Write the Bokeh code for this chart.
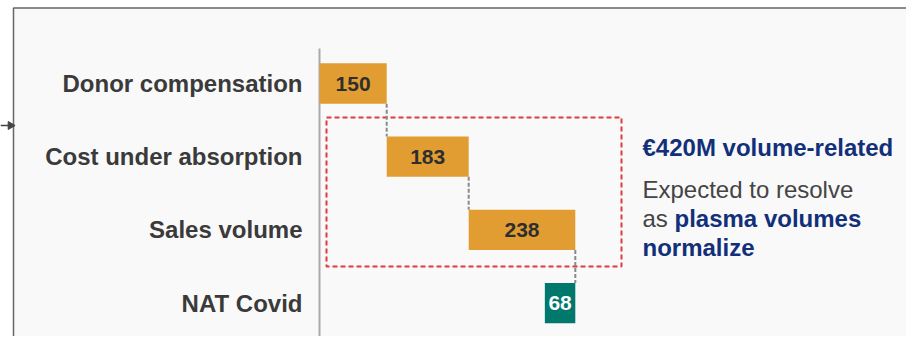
import math
from bokeh.plotting import figure
from bokeh.models import Range1d, ColumnDataSource
from bokeh.core.properties import value
from bokeh.embed import file_html
from bokeh.resources import INLINE

# ---- data ----
categories = ["Donor compensation", "Cost under absorption", "Sales volume", "NAT Covid"]
values = [150, 183, 238, -68]
value_labels = ["150", "183", "238", "68"]

headline = "€420M volume-related"
note_line1 = "Expected to resolve"
note_line2_plain = "as "
note_line2_bold = "plasma volumes"
note_line3_bold = "normalize"

# ---- styles ----
FONT = "Liberation Sans"
ORANGE = "#e29d32"
GREEN = "#00786c"
NAVY = "#12307a"
DARK = "#3a3a3a"
GREYTXT = "#444444"

W, H = 906, 336
OFF = 0              # picture origin offset
K = 0.448            # px per unit
ZERO_PX = 319        # x of value 0
ROW0_PX = 83         # y of first row centre
ROW_PX = 73.2        # px per row

X0 = -ZERO_PX / K
x_range = Range1d(X0, X0 + W / K)
y_range = Range1d((H - ROW0_PX) / ROW_PX, -ROW0_PX / ROW_PX)


def px2x(sx):
    return X0 + (sx - OFF) / K


def px2y(sy):
    return (sy - OFF - ROW0_PX) / ROW_PX


# waterfall geometry from values
starts, ends = [], []
run = 0
for v in values:
    starts.append(run)
    run += v
    ends.append(run)
rows = list(range(len(categories)))
lefts = [min(a, b) for a, b in zip(starts, ends)]
rights = [max(a, b) for a, b in zip(starts, ends)]
colors = [ORANGE if v > 0 else GREEN for v in values]
txtcol = ["#2e2e2e" if v > 0 else "#ffffff" for v in values]
mids = [(a + b) / 2 for a, b in zip(starts, ends)]
BH = 0.55

src = ColumnDataSource(dict(cat=categories, row=rows, left=lefts, right=rights,
                            color=colors, tcol=txtcol, mid=mids, lab=value_labels,
                            zero=[0] * len(rows)))

p = figure(width=W, height=H, output_backend="svg", toolbar_location=None,
           x_range=x_range, y_range=y_range, min_border=0,
           x_axis_location=None, y_axis_location=None)
p.grid.visible = False
p.outline_line_color = None
p.background_fill_color = "white"
p.border_fill_color = "white"

# panel frame
p.quad(left=[px2x(13)], right=[px2x(3000)], top=[px2y(7.5)], bottom=[px2y(2000)],
       fill_color="#f9f9f9", line_color="#666666", line_width=1.5)

# small arrow at left edge
p.segment(x0=[px2x(0)], x1=[px2x(12)], y0=[px2y(125)], y1=[px2y(125)],
          line_color="#444444", line_width=1.5)
p.scatter(x=[px2x(10)], y=[px2y(125)], marker="triangle", size=8, angle=-math.pi / 2,
          fill_color="#444444", line_color="#444444")

# axis line
p.segment(x0=[0], x1=[0], y0=[px2y(48)], y1=[px2y(338)], line_color="#aaaaaa", line_width=2)

# red dashed grouping box
p.quad(left=[px2x(326)], right=[px2x(621)], top=[px2y(117)], bottom=[px2y(266)],
       fill_color=None, line_color="#e0393e", line_width=2, line_dash="5 3")

# connectors
p.segment(x0=ends[:-1], x1=ends[:-1],
          y0=[r + BH / 2 for r in rows[:-1]], y1=[r + 1 - BH / 2 for r in rows[:-1]],
          line_color="#8a8a8a", line_width=2, line_dash="4 2")

# bars
p.hbar(y="row", left="left", right="right", height=BH, fill_color="color",
       line_color=None, source=src)

# bar values
p.text(x="mid", y="row", text="lab", source=src, text_color="tcol",
       text_font=value(FONT), text_font_style="bold", text_font_size="21px",
       text_align="center", text_baseline="middle")

# category labels
p.text(x="zero", y="row", text="cat", source=src, x_offset=-17,
       text_color=DARK, text_font=value(FONT), text_font_style="bold",
       text_font_size="24px", text_align="right", text_baseline="middle")

# right-hand commentary
def note(sx, sy, txt, color, bold):
    p.text(x=[px2x(sx)], y=[px2y(sy)], text=[txt], text_color=color,
           text_font=value(FONT), text_font_style="bold" if bold else "normal",
           text_font_size="24px", text_align="left", text_baseline="alphabetic")

note(642, 147, headline, NAVY, True)
note(642, 189, note_line1, GREYTXT, False)
note(642, 218, note_line2_plain, GREYTXT, False)
note(674, 218, note_line2_bold, NAVY, True)
note(642, 247, note_line3_bold, NAVY, True)

open("out.html", "w").write(file_html(p, INLINE))
